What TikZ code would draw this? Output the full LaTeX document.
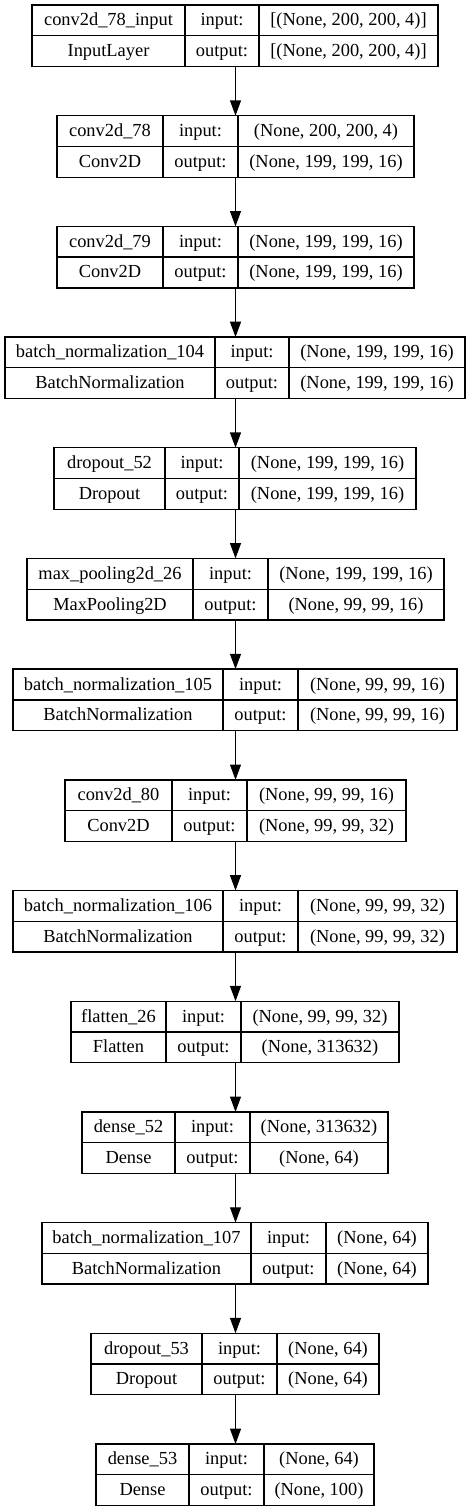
\documentclass[tikz,border=0pt]{standalone}
\usepackage{fontspec}
\setmainfont{LiberationSerif}[Extension=.ttf, UprightFont=*-Regular, BoldFont=*-Bold, ItalicFont=*-Italic, BoldItalicFont=*-BoldItalic]
\usetikzlibrary{arrows.meta}
\tikzset{
  x=0.75pt, y=-0.75pt,
  layerbox/.style={draw=black, line width=1pt, inner sep=0pt, outer sep=0pt, minimum height=46.125pt, fill=white},
  cellline/.style={draw=black, line width=1pt},
  celltext/.style={inner sep=0pt, anchor=base, font=\rmfamily\fontsize{13.8}{16}\selectfont, text=black},
  conn/.style={draw=black, line width=1pt, -{Triangle[length=11.5pt,width=8.2pt]}},
}
\newcommand\lay[6]{%
  \pgfmathsetmacro\T{5+110.69*#2}%
  \pgfmathsetmacro\cx{(#3+#6)/2}%
  \pgfmathsetmacro\cy{\T+30.75}%
  \pgfmathsetmacro\w{(#6-#3)*0.75}%
  \pgfmathsetmacro\B{\T+61.5}%
  \node[layerbox, minimum width=\w pt] (#1) at (\cx,\cy) {};
  \draw[cellline] (#4,\T) -- (#4,\B) (#5,\T) -- (#5,\B) (#3,\cy) -- (#6,\cy);
  \pgfmathsetmacro\ra{\T+15.4+5.5}%
  \pgfmathsetmacro\rb{\T+46.1+5.5}%
  \pgfmathsetmacro\ca{(#3+#4)/2}%
  \pgfmathsetmacro\cb{(#4+#5)/2}%
  \pgfmathsetmacro\cc{(#5+#6)/2}%
  \coordinate (#1-na) at (\ca,\ra);
  \coordinate (#1-ty) at (\ca,\rb);
  \coordinate (#1-il) at (\cb,\ra);
  \coordinate (#1-ol) at (\cb,\rb);
  \coordinate (#1-iv) at (\cc,\ra);
  \coordinate (#1-ov) at (\cc,\rb);
}
\newcommand\cells[5]{%
  \node[celltext] (#1-tna) at (#1-na) {#2};
  \node[celltext] (#1-tty) at (#1-ty) {#3};
  \node[celltext] (#1-til) at (#1-il) {input:};
  \node[celltext] (#1-tol) at (#1-ol) {output:};
  \node[celltext] (#1-tiv) at (#1-iv) {#4};
  \node[celltext] (#1-tov) at (#1-ov) {#5};
}
\begin{document}
\begin{tikzpicture}
\useasboundingbox (0,0) rectangle (471,1512);
\fill[white] (0,0) rectangle (471,1512);

\lay{b0}{0}{32}{185}{259}{438}
\cells{b0}{conv2d\_78\_input}{InputLayer}{[(None, 200, 200, 4)]}{[(None, 200, 200, 4)]}
\lay{b1}{1}{57}{163}{238}{414}
\cells{b1}{conv2d\_78}{Conv2D}{(None, 200, 200, 4)}{(None, 199, 199, 16)}
\lay{b2}{2}{57}{163}{238}{414}
\cells{b2}{conv2d\_79}{Conv2D}{(None, 199, 199, 16)}{(None, 199, 199, 16)}
\lay{b3}{3}{5}{215}{289}{465}
\cells{b3}{batch\_normalization\_104}{BatchNormalization}{(None, 199, 199, 16)}{(None, 199, 199, 16)}
\lay{b4}{4}{54}{165}{239}{416}
\cells{b4}{dropout\_52}{Dropout}{(None, 199, 199, 16)}{(None, 199, 199, 16)}
\lay{b5}{5}{27}{193}{268}{444}
\cells{b5}{max\_pooling2d\_26}{MaxPooling2D}{(None, 199, 199, 16)}{(None, 99, 99, 16)}
\lay{b6}{6}{13}{223}{298}{457}
\cells{b6}{batch\_normalization\_105}{BatchNormalization}{(None, 99, 99, 16)}{(None, 99, 99, 16)}
\lay{b7}{7}{65}{172}{247}{406}
\cells{b7}{conv2d\_80}{Conv2D}{(None, 99, 99, 16)}{(None, 99, 99, 32)}
\lay{b8}{8}{13}{223}{298}{457}
\cells{b8}{batch\_normalization\_106}{BatchNormalization}{(None, 99, 99, 32)}{(None, 99, 99, 32)}
\lay{b9}{9}{71}{166}{241}{399}
\cells{b9}{flatten\_26}{Flatten}{(None, 99, 99, 32)}{(None, 313632)}
\lay{b10}{10}{82}{175}{250}{388}
\cells{b10}{dense\_52}{Dense}{(None, 313632)}{(None, 64)}
\lay{b11}{11}{42}{251}{326}{428}
\cells{b11}{batch\_normalization\_107}{BatchNormalization}{(None, 64)}{(None, 64)}
\lay{b12}{12}{91}{202}{277}{379}
\cells{b12}{dropout\_53}{Dropout}{(None, 64)}{(None, 64)}
\lay{b13}{13}{96}{189}{264}{374}
\cells{b13}{dense\_53}{Dense}{(None, 64)}{(None, 100)}

\coordinate (ax) at (235.5,0);
\foreach \a/\b in {b0/b1,b1/b2,b2/b3,b3/b4,b4/b5,b5/b6,b6/b7,b7/b8,b8/b9,b9/b10,b10/b11,b11/b12,b12/b13}{
  \draw[conn] (ax |- \a.south) -- (ax |- \b.north);
}
\end{tikzpicture}
\end{document}
